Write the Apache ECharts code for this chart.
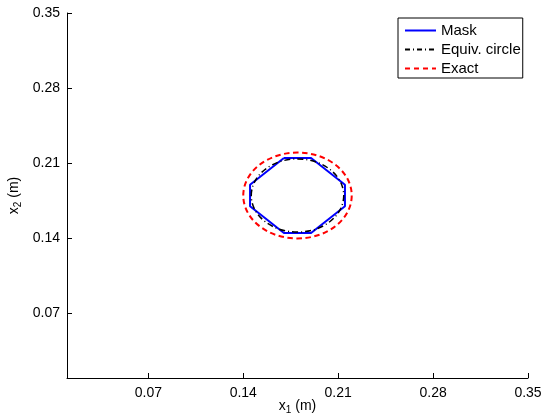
<!DOCTYPE html>
<html><head><meta charset="utf-8">
<script src="https://cdn.jsdelivr.net/npm/echarts@6/dist/echarts.min.js"></script>
<style>html,body{margin:0;padding:0;background:#fff}#c{width:542px;height:418px}</style>
</head><body><div id="c"></div>
<script>
// ---- data ----
const axisMin = 0.01;
const axisMax = 0.35;
const xTicks = [0.07, 0.14, 0.21, 0.28, 0.35];
const yTicks = [0.07, 0.14, 0.21, 0.28, 0.35];
// Mask outline (closed polygon)
const maskX = [0.17, 0.19, 0.215, 0.215, 0.19, 0.17, 0.145, 0.145, 0.17];
const maskY = [0.215, 0.215, 0.19, 0.17, 0.145, 0.145, 0.17, 0.19, 0.215];
// circles: [centre x, centre y, radius]
const equivCircle = [0.18, 0.18, 0.0341];
const exactCircle = [0.18, 0.18, 0.04];
const seriesNames = ['Mask', 'Equiv. circle', 'Exact'];

const FONT = 'Liberation Sans';
const chart = echarts.init(document.getElementById('c'), null, {renderer: 'canvas'});

function circleRenderer(color, width, dash) {
  return function (params, api) {
    const c = api.coord([api.value(0), api.value(1)]);
    const s = api.size([api.value(2), api.value(2)]);
    return {
      type: 'ellipse',
      shape: {cx: c[0], cy: c[1], rx: s[0], ry: s[1]},
      style: {fill: 'none', stroke: color, lineWidth: width, lineDash: dash}
    };
  };
}

const axisCommon = {
  type: 'value',
  min: axisMin,
  max: axisMax,
  splitLine: {show: false},
  axisLine: {show: true, lineStyle: {color: '#000', width: 1}},
  axisTick: {show: true, inside: true, length: 5, lineStyle: {color: '#000'}},
  axisLabel: {color: '#000', fontFamily: FONT, fontSize: 14, margin: 7}
};

const nameRich = {
  a: {fontFamily: FONT, fontSize: 14, color: '#000', lineHeight: 16, verticalAlign: 'top'},
  b: {fontFamily: FONT, fontSize: 10, color: '#000', lineHeight: 10, verticalAlign: 'bottom', padding: [11, 0, 0, 0]}
};

chart.setOption({
  animation: false,
  backgroundColor: '#fff',
  grid: {left: 67, right: 14, top: 13, bottom: 40, containLabel: false, outerBoundsMode: 'none'},
  xAxis: Object.assign({}, axisCommon, {
    axisTick: Object.assign({}, axisCommon.axisTick, {customValues: xTicks}),
    axisLabel: Object.assign({}, axisCommon.axisLabel, {customValues: xTicks, margin: 8}),
    name: '{a|x}{b|1}{a| (m)}',
    nameLocation: 'middle',
    nameGap: 21,
    nameMoveOverlap: false,
    nameTextStyle: {rich: nameRich}
  }),
  yAxis: Object.assign({}, axisCommon, {
    axisTick: Object.assign({}, axisCommon.axisTick, {customValues: yTicks}),
    axisLabel: Object.assign({}, axisCommon.axisLabel, {customValues: yTicks}),
    name: '{a|x}{b|2}{a| (m)}',
    nameLocation: 'middle',
    nameGap: 44,
    nameMoveOverlap: false,
    nameTextStyle: {rich: nameRich}
  }),
  legend: {
    data: seriesNames,
    orient: 'vertical',
    left: 398,
    top: 18,
    itemWidth: 31,
    itemHeight: 14,
    itemGap: 4,
    padding: [5, 2, 2, 6],
    borderColor: '#000',
    borderWidth: 1,
    backgroundColor: '#fff',
    selectedMode: false,
    itemStyle: {opacity: 0},
    textStyle: {fontFamily: FONT, fontSize: 15, color: '#000', lineHeight: 14}
  },
  series: [
    {
      type: 'line', name: seriesNames[0],
      data: maskX.map((x, i) => [x, maskY[i]]),
      symbol: 'none', z: 3,
      lineStyle: {color: '#0000ff', width: 2},
      itemStyle: {color: '#0000ff'}
    },
    {
      type: 'custom', name: 'equivShape', z: 4,
      data: [equivCircle],
      renderItem: circleRenderer('#000', 1.5, [6, 3, 1, 3])
    },
    {
      type: 'custom', name: 'exactShape', z: 5,
      data: [exactCircle],
      renderItem: circleRenderer('#ff0000', 2, [5.5, 3.5])
    },
    {
      type: 'line', name: seriesNames[1], data: [], symbol: 'none',
      lineStyle: {color: '#000', width: 1.5, type: [5, 3, 1, 3]},
      itemStyle: {color: '#000'}
    },
    {
      type: 'line', name: seriesNames[2], data: [], symbol: 'none',
      lineStyle: {color: '#ff0000', width: 2, type: [5, 4]},
      itemStyle: {color: '#ff0000'}
    }
  ]
});
</script>
</body></html>
